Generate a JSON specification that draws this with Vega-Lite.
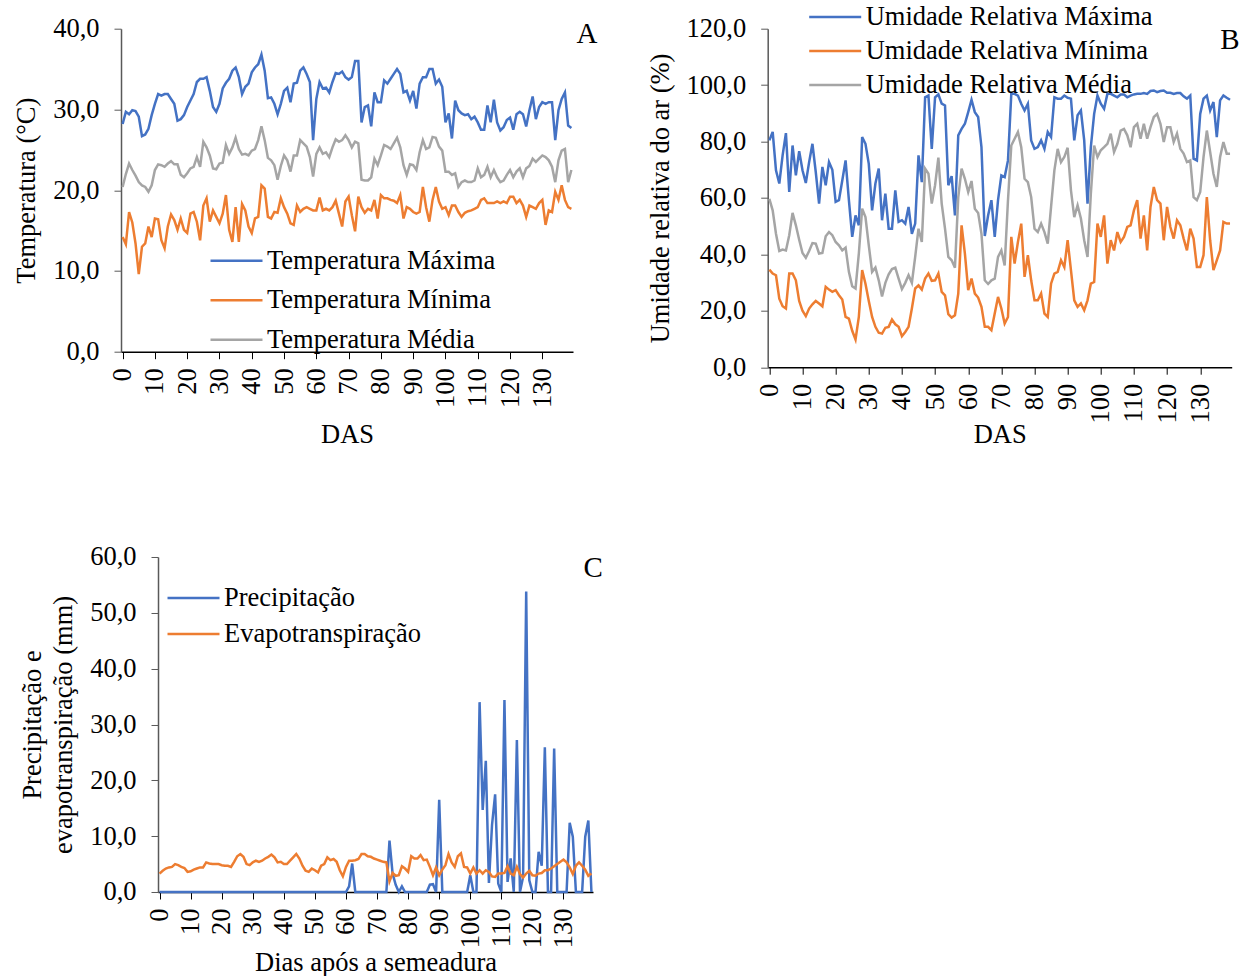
{
"$schema": "https://vega.github.io/schema/vega-lite/v6.json",
"padding": {"left": 13, "top": 1.7, "right": 0, "bottom": 0},
"background": "white",
"config": {
  "font": "Liberation Serif",
  "view": {"stroke": null},
  "axis": {"labelFont": "Liberation Serif", "titleFont": "Liberation Serif", "labelFontSize": 26.5, "titleFontSize": 26.5, "titleFontWeight": "normal", "labelColor": "#000", "titleColor": "#000", "grid": false},
  "axisX": {"values": [0,1,2,3,4,5,6,7,8,9,10,11,12,13,14,15,16,17,18,19,20,21,22,23,24,25,26,27,28,29,30,31,32,33,34,35,36,37,38,39,40,41,42,43,44,45,46,47,48,49,50,51,52,53,54,55,56,57,58,59,60,61,62,63,64,65,66,67,68,69,70,71,72,73,74,75,76,77,78,79,80,81,82,83,84,85,86,87,88,89,90,91,92,93,94,95,96,97,98,99,100,101,102,103,104,105,106,107,108,109,110,111,112,113,114,115,116,117,118,119,120,121,122,123,124,125,126,127,128,129,130,131,132,133,134,135,136,137,138,139],
    "labelExpr": "datum.value % 10 === 0 ? datum.label : ''", "format": "d", "labelAngle": -90, "labelAlign": "right", "labelBaseline": "middle", "labelPadding": 9, "tickSize": 7, "tickColor": "#000", "domainColor": "#000", "domainWidth": 1.5, "labelOverlap": false, "labelFlush": false, "labelBound": false, "titlePadding": 14},
  "axisY": {"labelExpr": "replace(format(datum.value, '.1f'), '.', ',')", "tickSize": 7, "labelPadding": 15, "domainColor": "#595959", "tickColor": "#595959", "domainWidth": 1.5, "labelOverlap": false, "titlePadding": 12},
  "legend": {"orient": "none", "title": null, "labelFont": "Liberation Serif", "labelFontSize": 26.5, "labelColor": "#000", "labelLimit": 600, "symbolType": "stroke", "symbolSize": 2704, "symbolStrokeWidth": 2.5, "labelOffset": 3, "padding": 0, "clipHeight": 30},
  "title": {"font": "Liberation Serif", "fontSize": 29, "fontWeight": "normal", "color": "#000", "anchor": "end", "orient": "top", "baseline": "alphabetic", "offset": 0}
},
"datasets": {
"A": [
{"d":0,"mx":28.2,"mn":14.2,"md":20.4},{"d":1,"mx":29.7,"mn":13.3,"md":22.0},{"d":2,"mx":29.4,"mn":17.3,"md":23.3},{"d":3,"mx":29.9,"mn":16.0,"md":22.5},{"d":4,"mx":29.8,"mn":13.4,"md":21.8},
{"d":5,"mx":29.1,"mn":9.6,"md":21.0},{"d":6,"mx":26.7,"mn":13.0,"md":20.6},{"d":7,"mx":26.9,"mn":13.4,"md":20.4},{"d":8,"mx":27.6,"mn":15.5,"md":19.8},{"d":9,"mx":29.3,"mn":14.2,"md":20.6},
{"d":10,"mx":30.7,"mn":16.5,"md":22.5},{"d":11,"mx":31.9,"mn":16.4,"md":23.2},{"d":12,"mx":31.7,"mn":13.8,"md":23.1},{"d":13,"mx":31.9,"mn":12.8,"md":22.9},{"d":14,"mx":31.9,"mn":15.5,"md":23.3},
{"d":15,"mx":31.3,"mn":17.0,"md":23.6},{"d":16,"mx":30.7,"mn":16.3,"md":23.2},{"d":17,"mx":28.6,"mn":15.1,"md":23.2},{"d":18,"mx":28.8,"mn":16.5,"md":21.9},{"d":19,"mx":29.3,"mn":15.1,"md":21.6},
{"d":20,"mx":30.3,"mn":14.7,"md":22.1},{"d":21,"mx":31.1,"mn":17.1,"md":22.7},{"d":22,"mx":31.9,"mn":17.3,"md":22.9},{"d":23,"mx":33.4,"mn":16.1,"md":24.1},{"d":24,"mx":33.8,"mn":13.8,"md":22.9},
{"d":25,"mx":33.8,"mn":18.1,"md":26.0},{"d":26,"mx":34.0,"mn":19.0,"md":25.3},{"d":27,"mx":32.3,"mn":16.1,"md":24.3},{"d":28,"mx":30.3,"mn":17.5,"md":22.7},{"d":29,"mx":29.7,"mn":16.7,"md":22.6},
{"d":30,"mx":30.7,"mn":15.9,"md":23.3},{"d":31,"mx":32.6,"mn":17.1,"md":23.4},{"d":32,"mx":33.3,"mn":19.4,"md":25.6},{"d":33,"mx":33.8,"mn":15.1,"md":24.5},{"d":34,"mx":34.8,"mn":13.6,"md":25.3},
{"d":35,"mx":35.2,"mn":17.9,"md":26.5},{"d":36,"mx":34.0,"mn":13.6,"md":25.1},{"d":37,"mx":31.9,"mn":18.3,"md":24.4},{"d":38,"mx":32.8,"mn":17.5,"md":24.5},{"d":39,"mx":33.2,"mn":15.5,"md":24.3},
{"d":40,"mx":34.6,"mn":14.7,"md":24.9},{"d":41,"mx":35.2,"mn":16.5,"md":25.1},{"d":42,"mx":35.6,"mn":16.7,"md":26.2},{"d":43,"mx":36.8,"mn":20.6,"md":27.9},{"d":44,"mx":34.8,"mn":20.2,"md":26.2},
{"d":45,"mx":31.4,"mn":16.7,"md":24.0},{"d":46,"mx":31.5,"mn":16.5,"md":23.7},{"d":47,"mx":30.7,"mn":17.3,"md":23.1},{"d":48,"mx":29.4,"mn":17.2,"md":21.3},{"d":49,"mx":30.7,"mn":19.0,"md":23.0},
{"d":50,"mx":32.3,"mn":17.9,"md":24.3},{"d":51,"mx":32.7,"mn":17.1,"md":23.7},{"d":52,"mx":30.9,"mn":15.9,"md":22.3},{"d":53,"mx":33.2,"mn":15.7,"md":24.3},{"d":54,"mx":33.3,"mn":18.1,"md":24.3},
{"d":55,"mx":34.8,"mn":17.3,"md":26.2},{"d":56,"mx":35.2,"mn":17.7,"md":25.8},{"d":57,"mx":34.4,"mn":17.9,"md":25.4},{"d":58,"mx":33.4,"mn":17.7,"md":24.1},{"d":59,"mx":26.2,"mn":17.5,"md":21.7},
{"d":60,"mx":31.3,"mn":17.5,"md":24.5},{"d":61,"mx":33.4,"mn":19.1,"md":25.3},{"d":62,"mx":32.6,"mn":17.5,"md":24.5},{"d":63,"mx":32.7,"mn":17.7,"md":24.7},{"d":64,"mx":32.1,"mn":17.5,"md":24.1},
{"d":65,"mx":33.4,"mn":17.9,"md":25.3},{"d":66,"mx":34.5,"mn":18.7,"md":26.3},{"d":67,"mx":34.4,"mn":17.1,"md":26.0},{"d":68,"mx":34.7,"mn":15.5,"md":26.2},{"d":69,"mx":34.0,"mn":18.6,"md":26.8},
{"d":70,"mx":33.7,"mn":19.2,"md":26.2},{"d":71,"mx":34.0,"mn":16.9,"md":25.3},{"d":72,"mx":36.0,"mn":14.9,"md":26.0},{"d":73,"mx":36.0,"mn":19.2,"md":25.8},{"d":74,"mx":28.4,"mn":17.9,"md":21.3},
{"d":75,"mx":30.3,"mn":17.2,"md":21.2},{"d":76,"mx":30.5,"mn":17.7,"md":21.2},{"d":77,"mx":27.9,"mn":17.5,"md":21.6},{"d":78,"mx":32.1,"mn":18.8,"md":23.9},{"d":79,"mx":30.9,"mn":16.5,"md":23.1},
{"d":80,"mx":30.9,"mn":19.4,"md":24.3},{"d":81,"mx":33.6,"mn":19.0,"md":25.6},{"d":82,"mx":33.2,"mn":19.0,"md":25.4},{"d":83,"mx":33.8,"mn":18.8,"md":25.1},{"d":84,"mx":34.4,"mn":18.7,"md":25.8},
{"d":85,"mx":35.0,"mn":18.4,"md":26.5},{"d":86,"mx":34.4,"mn":19.4,"md":25.3},{"d":87,"mx":32.1,"mn":16.5,"md":23.1},{"d":88,"mx":32.3,"mn":17.9,"md":21.9},{"d":89,"mx":31.1,"mn":17.7,"md":23.2},
{"d":90,"mx":32.3,"mn":17.3,"md":23.1},{"d":91,"mx":30.1,"mn":17.1,"md":22.5},{"d":92,"mx":33.2,"mn":17.3,"md":24.7},{"d":93,"mx":34.0,"mn":20.4,"md":26.2},{"d":94,"mx":34.0,"mn":17.9,"md":25.1},
{"d":95,"mx":35.0,"mn":16.1,"md":25.3},{"d":96,"mx":35.0,"mn":18.8,"md":26.6},{"d":97,"mx":33.2,"mn":20.4,"md":26.5},{"d":98,"mx":33.7,"mn":18.6,"md":25.4},{"d":99,"mx":32.8,"mn":17.7,"md":24.9},
{"d":100,"mx":28.4,"mn":17.9,"md":22.3},{"d":101,"mx":29.5,"mn":16.9,"md":22.3},{"d":102,"mx":26.4,"mn":18.1,"md":21.9},{"d":103,"mx":31.1,"mn":18.1,"md":22.1},{"d":104,"mx":29.9,"mn":17.3,"md":20.4},
{"d":105,"mx":29.5,"mn":16.7,"md":21.0},{"d":106,"mx":29.3,"mn":17.2,"md":21.2},{"d":107,"mx":29.4,"mn":17.4,"md":21.0},{"d":108,"mx":28.8,"mn":17.5,"md":21.0},{"d":109,"mx":29.1,"mn":17.7,"md":21.2},
{"d":110,"mx":28.4,"mn":17.9,"md":22.7},{"d":111,"mx":27.5,"mn":18.8,"md":21.6},{"d":112,"mx":27.5,"mn":19.0,"md":21.9},{"d":113,"mx":30.5,"mn":18.4,"md":22.9},{"d":114,"mx":28.4,"mn":18.4,"md":21.6},
{"d":115,"mx":31.2,"mn":18.4,"md":22.5},{"d":116,"mx":28.4,"mn":18.6,"md":21.6},{"d":117,"mx":27.4,"mn":18.4,"md":21.0},{"d":118,"mx":27.8,"mn":18.6,"md":21.2},{"d":119,"mx":28.7,"mn":18.4,"md":21.9},
{"d":120,"mx":29.0,"mn":19.2,"md":22.5},{"d":121,"mx":27.5,"mn":19.2,"md":21.6},{"d":122,"mx":29.4,"mn":18.4,"md":22.3},{"d":123,"mx":29.7,"mn":18.8,"md":22.7},{"d":124,"mx":29.4,"mn":18.1,"md":21.6},
{"d":125,"mx":27.9,"mn":16.7,"md":22.7},{"d":126,"mx":29.9,"mn":18.1,"md":23.0},{"d":127,"mx":31.6,"mn":17.9,"md":23.9},{"d":128,"mx":28.8,"mn":17.7,"md":23.5},{"d":129,"mx":30.3,"mn":18.4,"md":23.9},
{"d":130,"mx":30.9,"mn":18.8,"md":24.3},{"d":131,"mx":30.7,"mn":15.7,"md":24.1},{"d":132,"mx":30.9,"mn":17.5,"md":23.7},{"d":133,"mx":30.9,"mn":17.3,"md":22.9},{"d":134,"mx":26.2,"mn":19.8,"md":21.0},
{"d":135,"mx":29.9,"mn":18.8,"md":23.7},{"d":136,"mx":31.3,"mn":20.6,"md":24.9},{"d":137,"mx":32.1,"mn":18.8,"md":25.1},{"d":138,"mx":28.0,"mn":17.9,"md":21.0},{"d":139,"mx":27.7,"mn":17.7,"md":22.5}
],
"B": [
{"d":0,"mx":80.4,"mn":34.6,"md":59.7},{"d":1,"mx":83.4,"mn":33.2,"md":55.6},{"d":2,"mx":69.8,"mn":32.6,"md":47.3},{"d":3,"mx":65.1,"mn":24.3,"md":41.2},{"d":4,"mx":75.1,"mn":21.6,"md":41.7},
{"d":5,"mx":83.0,"mn":20.8,"md":41.4},{"d":6,"mx":62.1,"mn":33.2,"md":46.8},{"d":7,"mx":78.6,"mn":33.2,"md":54.7},{"d":8,"mx":68.0,"mn":30.8,"md":50.3},{"d":9,"mx":76.6,"mn":23.5,"md":45.2},
{"d":10,"mx":69.8,"mn":20.0,"md":40.5},{"d":11,"mx":65.3,"mn":18.1,"md":38.8},{"d":12,"mx":72.7,"mn":20.8,"md":41.2},{"d":13,"mx":79.2,"mn":22.3,"md":44.0},{"d":14,"mx":69.2,"mn":23.5,"md":43.8},
{"d":15,"mx":58.0,"mn":22.6,"md":40.3},{"d":16,"mx":71.0,"mn":21.6,"md":40.5},{"d":17,"mx":64.5,"mn":28.5,"md":46.4},{"d":18,"mx":72.7,"mn":27.5,"md":47.9},{"d":19,"mx":70.0,"mn":26.7,"md":46.8},
{"d":20,"mx":58.6,"mn":27.3,"md":44.4},{"d":21,"mx":59.2,"mn":25.5,"md":43.2},{"d":22,"mx":66.2,"mn":24.0,"md":41.4},{"d":23,"mx":73.3,"mn":17.8,"md":42.4},{"d":24,"mx":59.2,"mn":17.2,"md":33.8},
{"d":25,"mx":46.2,"mn":12.9,"md":28.7},{"d":26,"mx":53.8,"mn":9.8,"md":27.9},{"d":27,"mx":50.3,"mn":17.8,"md":40.3},{"d":28,"mx":81.6,"mn":34.4,"md":56.2},{"d":29,"mx":79.2,"mn":29.6,"md":53.2},
{"d":30,"mx":72.1,"mn":23.5,"md":43.2},{"d":31,"mx":55.6,"mn":17.8,"md":33.8},{"d":32,"mx":65.1,"mn":14.3,"md":35.3},{"d":33,"mx":70.4,"mn":12.2,"md":30.8},{"d":34,"mx":52.1,"mn":11.9,"md":25.1},
{"d":35,"mx":61.5,"mn":14.0,"md":29.9},{"d":36,"mx":49.1,"mn":14.3,"md":32.9},{"d":37,"mx":49.1,"mn":16.9,"md":34.8},{"d":38,"mx":62.7,"mn":15.2,"md":35.3},{"d":39,"mx":51.5,"mn":14.3,"md":31.4},
{"d":40,"mx":52.1,"mn":11.0,"md":27.7},{"d":41,"mx":50.9,"mn":12.5,"md":29.9},{"d":42,"mx":56.8,"mn":14.3,"md":32.6},{"d":43,"mx":47.3,"mn":20.8,"md":29.9},{"d":44,"mx":50.9,"mn":27.9,"md":39.1},
{"d":45,"mx":75.1,"mn":29.0,"md":49.1},{"d":46,"mx":65.6,"mn":27.5,"md":44.4},{"d":47,"mx":95.7,"mn":31.4,"md":70.4},{"d":48,"mx":96.3,"mn":33.2,"md":68.6},{"d":49,"mx":77.4,"mn":30.6,"md":58.0},
{"d":50,"mx":95.7,"mn":30.8,"md":64.5},{"d":51,"mx":96.7,"mn":33.2,"md":74.3},{"d":52,"mx":93.4,"mn":26.7,"md":58.0},{"d":53,"mx":92.8,"mn":25.5,"md":49.1},{"d":54,"mx":64.5,"mn":18.8,"md":39.1},
{"d":55,"mx":67.7,"mn":17.6,"md":37.9},{"d":56,"mx":53.8,"mn":18.4,"md":35.3},{"d":57,"mx":82.2,"mn":26.1,"md":60.3},{"d":58,"mx":84.5,"mn":50.3,"md":70.4},{"d":59,"mx":86.3,"mn":40.3,"md":66.8},
{"d":60,"mx":90.4,"mn":27.3,"md":62.1},{"d":61,"mx":94.8,"mn":31.4,"md":66.0},{"d":62,"mx":90.4,"mn":26.1,"md":56.2},{"d":63,"mx":88.7,"mn":24.7,"md":54.7},{"d":64,"mx":78.0,"mn":21.4,"md":47.3},
{"d":65,"mx":46.5,"mn":14.3,"md":30.8},{"d":66,"mx":53.8,"mn":14.3,"md":29.5},{"d":67,"mx":59.2,"mn":13.1,"md":30.8},{"d":68,"mx":46.2,"mn":19.0,"md":31.4},{"d":69,"mx":59.2,"mn":24.9,"md":39.1},
{"d":70,"mx":68.0,"mn":20.8,"md":41.4},{"d":71,"mx":67.4,"mn":15.5,"md":36.1},{"d":72,"mx":73.3,"mn":17.8,"md":59.2},{"d":73,"mx":96.9,"mn":46.2,"md":78.6},{"d":74,"mx":96.9,"mn":36.7,"md":81.0},
{"d":75,"mx":96.3,"mn":44.4,"md":83.4},{"d":76,"mx":93.4,"mn":50.9,"md":78.0},{"d":77,"mx":91.0,"mn":32.0,"md":66.8},{"d":78,"mx":93.4,"mn":39.7,"md":65.6},{"d":79,"mx":80.4,"mn":30.8,"md":60.3},
{"d":80,"mx":77.4,"mn":23.7,"md":49.1},{"d":81,"mx":78.0,"mn":23.7,"md":47.9},{"d":82,"mx":80.4,"mn":26.1,"md":50.9},{"d":83,"mx":77.4,"mn":19.0,"md":47.9},{"d":84,"mx":83.4,"mn":17.8,"md":43.8},
{"d":85,"mx":81.6,"mn":29.6,"md":56.8},{"d":86,"mx":95.7,"mn":33.2,"md":69.8},{"d":87,"mx":95.2,"mn":33.8,"md":77.4},{"d":88,"mx":95.2,"mn":37.9,"md":72.7},{"d":89,"mx":96.3,"mn":35.5,"md":74.5},
{"d":90,"mx":95.5,"mn":45.0,"md":77.8},{"d":91,"mx":95.2,"mn":34.4,"md":62.7},{"d":92,"mx":80.4,"mn":23.7,"md":53.2},{"d":93,"mx":89.3,"mn":21.4,"md":57.4},{"d":94,"mx":91.0,"mn":22.6,"md":52.7},
{"d":95,"mx":80.4,"mn":20.2,"md":45.0},{"d":96,"mx":58.0,"mn":23.7,"md":39.1},{"d":97,"mx":78.0,"mn":29.6,"md":61.5},{"d":98,"mx":89.8,"mn":30.2,"md":78.6},{"d":99,"mx":96.3,"mn":50.9,"md":74.5},
{"d":100,"mx":93.4,"mn":46.2,"md":76.9},{"d":101,"mx":91.6,"mn":53.8,"md":78.0},{"d":102,"mx":96.9,"mn":36.7,"md":79.2},{"d":103,"mx":96.9,"mn":45.0,"md":82.8},{"d":104,"mx":96.3,"mn":41.4,"md":76.3},
{"d":105,"mx":95.7,"mn":47.9,"md":79.2},{"d":106,"mx":96.7,"mn":44.4,"md":83.9},{"d":107,"mx":96.7,"mn":46.2,"md":84.5},{"d":108,"mx":95.7,"mn":49.7,"md":82.2},{"d":109,"mx":96.3,"mn":50.3,"md":78.0},
{"d":110,"mx":96.7,"mn":55.6,"md":85.1},{"d":111,"mx":96.9,"mn":59.2,"md":86.3},{"d":112,"mx":96.9,"mn":45.6,"md":81.0},{"d":113,"mx":97.2,"mn":53.8,"md":86.3},{"d":114,"mx":96.9,"mn":41.4,"md":81.0},
{"d":115,"mx":97.9,"mn":56.8,"md":85.1},{"d":116,"mx":98.1,"mn":63.9,"md":88.7},{"d":117,"mx":97.5,"mn":59.2,"md":89.8},{"d":118,"mx":97.9,"mn":58.0,"md":86.3},{"d":119,"mx":98.1,"mn":45.0,"md":79.8},
{"d":120,"mx":97.3,"mn":56.8,"md":85.1},{"d":121,"mx":97.3,"mn":49.7,"md":85.1},{"d":122,"mx":96.9,"mn":45.6,"md":79.8},{"d":123,"mx":97.2,"mn":52.1,"md":82.8},{"d":124,"mx":97.2,"mn":50.3,"md":77.4},
{"d":125,"mx":96.0,"mn":45.6,"md":75.7},{"d":126,"mx":95.2,"mn":41.4,"md":72.7},{"d":127,"mx":96.3,"mn":49.1,"md":73.3},{"d":128,"mx":73.9,"mn":45.6,"md":60.3},{"d":129,"mx":73.3,"mn":35.5,"md":59.2},
{"d":130,"mx":89.8,"mn":35.5,"md":62.1},{"d":131,"mx":95.2,"mn":39.7,"md":74.5},{"d":132,"mx":96.3,"mn":60.3,"md":83.9},{"d":133,"mx":91.0,"mn":45.0,"md":76.3},{"d":134,"mx":94.0,"mn":34.4,"md":68.6},
{"d":135,"mx":81.6,"mn":37.9,"md":63.9},{"d":136,"mx":94.6,"mn":41.4,"md":74.5},{"d":137,"mx":96.3,"mn":51.5,"md":79.8},{"d":138,"mx":95.5,"mn":50.9,"md":75.7},{"d":139,"mx":94.8,"mn":50.9,"md":75.7}
],
"C": [
{"d":0,"p":0,"e":3.3},{"d":1,"p":0,"e":3.8},{"d":2,"p":0,"e":4.2},{"d":3,"p":0,"e":4.4},{"d":4,"p":0,"e":4.5},{"d":5,"p":0,"e":5.0},{"d":6,"p":0,"e":4.8},{"d":7,"p":0,"e":4.5},{"d":8,"p":0,"e":4.3},{"d":9,"p":0,"e":3.6},
{"d":10,"p":0,"e":3.7},{"d":11,"p":0,"e":4.0},{"d":12,"p":0,"e":4.2},{"d":13,"p":0,"e":4.4},{"d":14,"p":0,"e":4.4},{"d":15,"p":0,"e":5.3},{"d":16,"p":0,"e":5.1},{"d":17,"p":0,"e":5.0},{"d":18,"p":0,"e":5.0},{"d":19,"p":0,"e":5.0},
{"d":20,"p":0,"e":4.8},{"d":21,"p":0,"e":4.7},{"d":22,"p":0,"e":4.7},{"d":23,"p":0,"e":4.5},{"d":24,"p":0,"e":5.4},{"d":25,"p":0,"e":6.4},{"d":26,"p":0,"e":6.8},{"d":27,"p":0,"e":6.3},{"d":28,"p":0,"e":5.0},{"d":29,"p":0,"e":4.8},
{"d":30,"p":0,"e":5.3},{"d":31,"p":0,"e":5.6},{"d":32,"p":0,"e":5.4},{"d":33,"p":0,"e":5.6},{"d":34,"p":0,"e":6.0},{"d":35,"p":0,"e":6.3},{"d":36,"p":0,"e":6.7},{"d":37,"p":0,"e":6.2},{"d":38,"p":0,"e":5.3},{"d":39,"p":0,"e":5.4},
{"d":40,"p":0,"e":5.0},{"d":41,"p":0,"e":5.0},{"d":42,"p":0,"e":5.6},{"d":43,"p":0,"e":6.2},{"d":44,"p":0,"e":6.8},{"d":45,"p":0,"e":6.0},{"d":46,"p":0,"e":4.7},{"d":47,"p":0,"e":3.8},{"d":48,"p":0,"e":3.6},{"d":49,"p":0,"e":4.2},
{"d":50,"p":0,"e":3.9},{"d":51,"p":0,"e":3.5},{"d":52,"p":0,"e":4.7},{"d":53,"p":0,"e":5.0},{"d":54,"p":0,"e":6.2},{"d":55,"p":0,"e":5.7},{"d":56,"p":0,"e":5.9},{"d":57,"p":0,"e":5.4},{"d":58,"p":0,"e":3.9},{"d":59,"p":0,"e":2.8},
{"d":60,"p":0,"e":4.5},{"d":61,"p":1.0,"e":5.6},{"d":62,"p":5.1,"e":5.6},{"d":63,"p":0,"e":5.7},{"d":64,"p":0,"e":5.9},{"d":65,"p":0,"e":6.8},{"d":66,"p":0,"e":6.8},{"d":67,"p":0,"e":6.4},{"d":68,"p":0,"e":6.3},{"d":69,"p":0,"e":6.0},
{"d":70,"p":0,"e":5.8},{"d":71,"p":0,"e":5.6},{"d":72,"p":0,"e":5.4},{"d":73,"p":0,"e":5.3},{"d":74,"p":9.2,"e":1.9},{"d":75,"p":3.3,"e":3.4},{"d":76,"p":1.3,"e":2.9},{"d":77,"p":0,"e":3.0},{"d":78,"p":1.0,"e":4.6},{"d":79,"p":0,"e":4.2},
{"d":80,"p":0,"e":3.6},{"d":81,"p":0,"e":6.4},{"d":82,"p":0,"e":6.0},{"d":83,"p":0,"e":6.0},{"d":84,"p":0,"e":6.6},{"d":85,"p":0,"e":5.7},{"d":86,"p":0,"e":5.8},{"d":87,"p":1.3,"e":4.5},{"d":88,"p":1.4,"e":3.0},{"d":89,"p":0,"e":4.4},
{"d":90,"p":16.5,"e":3.0},{"d":91,"p":0,"e":4.0},{"d":92,"p":0,"e":4.8},{"d":93,"p":0,"e":6.8},{"d":94,"p":0,"e":5.3},{"d":95,"p":0,"e":4.5},{"d":96,"p":0,"e":6.4},{"d":97,"p":0,"e":6.9},{"d":98,"p":0,"e":4.5},{"d":99,"p":0,"e":4.4},
{"d":100,"p":3.0,"e":3.3},{"d":101,"p":0,"e":4.4},{"d":102,"p":0,"e":3.3},{"d":103,"p":34.0,"e":3.9},{"d":104,"p":14.7,"e":3.3},{"d":105,"p":23.5,"e":3.9},{"d":106,"p":1.6,"e":3.6},{"d":107,"p":12.0,"e":2.8},{"d":108,"p":17.5,"e":2.7},{"d":109,"p":1.5,"e":3.3},
{"d":110,"p":0,"e":3.3},{"d":111,"p":34.4,"e":3.4},{"d":112,"p":1.8,"e":4.6},{"d":113,"p":6.0,"e":3.3},{"d":114,"p":0,"e":3.0},{"d":115,"p":27.2,"e":4.5},{"d":116,"p":0,"e":3.2},{"d":117,"p":2.7,"e":2.6},{"d":118,"p":53.8,"e":3.3},{"d":119,"p":2.1,"e":3.8},
{"d":120,"p":0,"e":3.0},{"d":121,"p":0,"e":2.9},{"d":122,"p":7.2,"e":3.3},{"d":123,"p":4.7,"e":3.4},{"d":124,"p":25.9,"e":3.9},{"d":125,"p":0,"e":3.9},{"d":126,"p":0,"e":4.2},{"d":127,"p":25.7,"e":4.6},{"d":128,"p":0,"e":5.0},{"d":129,"p":0,"e":5.4},
{"d":130,"p":0,"e":5.8},{"d":131,"p":0,"e":5.3},{"d":132,"p":12.4,"e":4.4},{"d":133,"p":9.9,"e":3.2},{"d":134,"p":0,"e":4.7},{"d":135,"p":0,"e":5.3},{"d":136,"p":0,"e":4.7},{"d":137,"p":9.9,"e":4.0},{"d":138,"p":12.8,"e":2.9},{"d":139,"p":0,"e":3.3}
]
},
"bounds": "flush",
"spacing": 528.3,
"resolve": {"scale": {"x": "independent", "y": "independent", "color": "independent"}, "legend": {"color": "independent"}},
"vconcat": [
{
"hconcat": [
{
  "width": 452, "height": 323,
  "data": {"name": "A"},
  "transform": [{"fold": ["mx", "mn", "md"], "as": ["s", "v"]}],
  "title": {"text": "A", "dx": 21, "dy": 37},
  "mark": {"type": "line", "strokeWidth": 2.5},
  "encoding": {
    "x": {"field": "d", "type": "quantitative", "scale": {"domain": [-0.5, 139.5], "nice": false, "zero": false}, "axis": {"title": "DAS"}},
    "y": {"field": "v", "type": "quantitative", "scale": {"domain": [0, 40], "nice": false}, "axis": {"values": [0, 10, 20, 30, 40], "title": "Temperatura (°C)"}},
    "color": {"field": "s", "type": "nominal", "sort": ["mx", "mn", "md"], "scale": {"domain": ["mx", "mn", "md"], "range": ["#4472C4", "#ED7D31", "#A5A5A5"]},
      "legend": {"legendX": 88, "legendY": 217, "rowPadding": 9.5, "labelExpr": "datum.value == 'mx' ? 'Temperatura Máxima' : datum.value == 'mn' ? 'Temperatura Mínima' : 'Temperatura Média'"}}
  }
},
{
  "width": 464, "height": 338.5,
  "data": {"name": "B"},
  "transform": [{"fold": ["mx", "mn", "md"], "as": ["s", "v"]}],
  "title": {"text": "B", "dx": 4.5, "dy": 57.3},
  "mark": {"type": "line", "strokeWidth": 2.5},
  "encoding": {
    "x": {"field": "d", "type": "quantitative", "scale": {"domain": [-0.5, 139.5], "nice": false, "zero": false}, "axis": {"title": "DAS", "titlePadding": -1}},
    "y": {"field": "v", "type": "quantitative", "scale": {"domain": [0, 120], "nice": false}, "axis": {"values": [0, 20, 40, 60, 80, 100, 120], "title": "Umidade relativa do ar (%)"}},
    "color": {"field": "s", "type": "nominal", "sort": ["mx", "mn", "md"], "scale": {"domain": ["mx", "mn", "md"], "range": ["#4472C4", "#ED7D31", "#A5A5A5"]},
      "legend": {"legendX": 40, "legendY": -26.7, "rowPadding": 4, "labelExpr": "datum.value == 'mx' ? 'Umidade Relativa Máxima' : datum.value == 'mn' ? 'Umidade Relativa Mínima' : 'Umidade Relativa Média'"}}
  }
}
],
"spacing": 194.7,
"bounds": "flush",
"resolve": {"scale": {"x": "independent", "y": "independent", "color": "independent"}, "legend": {"color": "independent"}}
},
{
"hconcat": [
{
  "width": 37, "height": 10,
  "data": {"values": []},
  "mark": "point",
  "encoding": {}
},
{
  "width": 435, "height": 335,
  "data": {"name": "C"},
  "transform": [{"fold": ["p", "e"], "as": ["s", "v"]}],
  "title": {"text": "C", "dx": 6.5, "dy": 43},
  "mark": {"type": "line", "strokeWidth": 2.5},
  "encoding": {
    "x": {"field": "d", "type": "quantitative", "scale": {"domain": [-0.5, 139.5], "nice": false, "zero": false}, "axis": {"title": "Dias após a semeadura", "titlePadding": 2}},
    "y": {"field": "v", "type": "quantitative", "scale": {"domain": [0, 60], "nice": false}, "axis": {"values": [0, 10, 20, 30, 40, 50, 60], "title": ["Precipitação e", "evapotranspiração (mm)"], "titleLineHeight": 31}},
    "color": {"field": "s", "type": "nominal", "sort": ["p", "e"], "scale": {"domain": ["p", "e"], "range": ["#4472C4", "#ED7D31"]},
      "legend": {"legendX": 8, "legendY": 26, "rowPadding": 6, "labelExpr": "datum.value == 'p' ? 'Precipitação' : 'Evapotranspiração'"}}
  }
}
],
"spacing": 0,
"bounds": "flush",
"resolve": {"scale": {"x": "independent", "y": "independent", "color": "independent"}, "legend": {"color": "independent"}}
}
]
}
